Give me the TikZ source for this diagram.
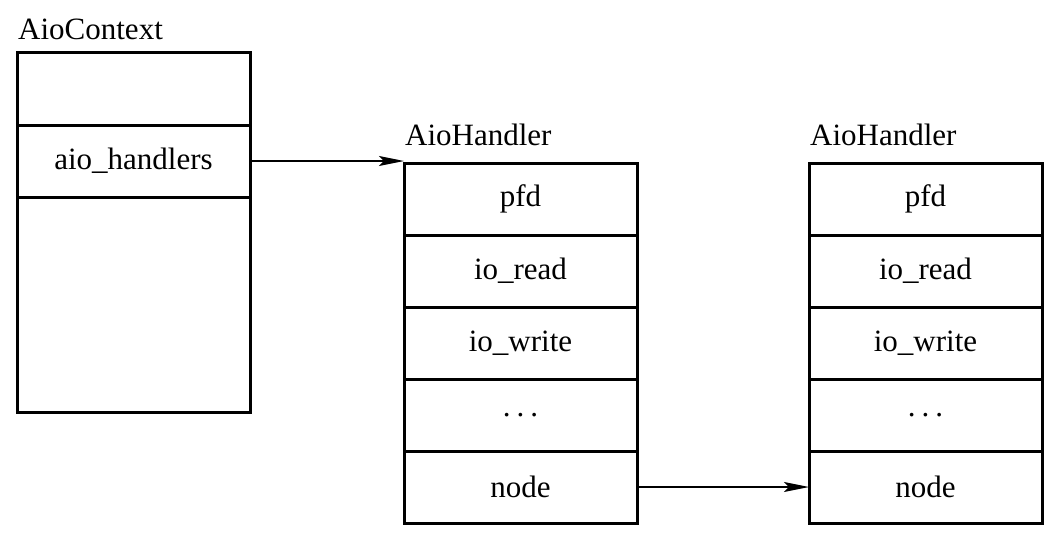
\documentclass[tikz,border=0pt]{standalone}
\usepackage{fontspec}
\setmainfont{Liberation Serif}
\usepackage{tikz}
\usetikzlibrary{positioning,arrows.meta}

\begin{document}
\begin{tikzpicture}[x=1pt,y=-1pt,
    font=\fontsize{31}{36}\selectfont,
    row/.style={draw, line width=3pt, inner sep=0pt, outer sep=0pt,
      minimum width=233pt, minimum height=72pt},
    lbl/.style={inner sep=0pt, anchor=base west},
    ptr/.style={line width=1.5pt, -{Stealth[length=25pt,width=10pt,inset=5pt]}}]
      \useasboundingbox (0,0) rectangle (1061,536);
      % AioContext
      \node [row, minimum height=73pt, anchor=north west] (ctxtop) at (17, 52) {};
      \node [row, below=0pt of ctxtop] (ctxhand) {aio\_handlers};
      \node [row, minimum height=215pt, below=0pt of ctxhand] (ctxrest) {};
      \node [lbl] (ctxlbl) at (18, 39) {AioContext};
      % first AioHandler
      \node [row, anchor=north west] (hapfd) at (404, 163) {pfd};
      \node [row, below=0pt of hapfd] (haread) {io\_read};
      \node [row, below=0pt of haread] (hawrite) {io\_write};
      \node [row, below=0pt of hawrite] (hadots) {.\hspace{6pt}.\hspace{6pt}.};
      \node [row, below=0pt of hadots] (hanode) {node};
      \node [lbl] (halbl) at (405, 145) {AioHandler};
      % second AioHandler
      \node [row, anchor=north west] (hbpfd) at (809, 163) {pfd};
      \node [row, below=0pt of hbpfd] (hbread) {io\_read};
      \node [row, below=0pt of hbread] (hbwrite) {io\_write};
      \node [row, below=0pt of hbwrite] (hbdots) {.\hspace{6pt}.\hspace{6pt}.};
      \node [row, below=0pt of hbdots] (hbnode) {node};
      \node [lbl] (hblbl) at (810, 145) {AioHandler};
      % pointers
      \draw [ptr] (ctxhand.east) -- (ctxhand.east -| hapfd.west);
      \draw [ptr] (hanode.east) -- (hbnode.west);
    \end{tikzpicture}
\end{document}
